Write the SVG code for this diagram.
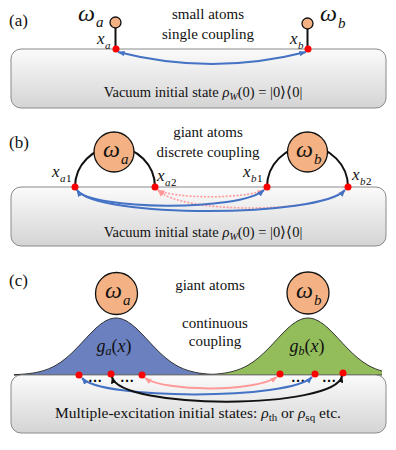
<svg xmlns="http://www.w3.org/2000/svg" width="396" height="450" viewBox="0 0 396 450" font-family="Liberation Serif, serif">
<defs>
<style>
text{font-family:"Liberation Serif",serif}
.wg{fill:url(#wgGrad);stroke:#8a8a8a;stroke-width:1}
.lbl{font-size:17px;fill:#111}
.t{font-size:15px;fill:#111}
.m{font-style:italic;fill:#111}
.atom{fill:#f4b183;stroke:#111;stroke-width:1.3}
.leg{fill:none;stroke:#111;stroke-width:2}
.dot{fill:#ff0000}
.blue{fill:none;stroke:#4472c4;stroke-width:2;marker-start:url(#arB);marker-end:url(#arB)}
.pinkd{fill:none;stroke:#ff9999;stroke-width:1.6;stroke-dasharray:2 1.6;marker-start:url(#arP);marker-end:url(#arP)}
.pink{fill:none;stroke:#ff9999;stroke-width:2;marker-start:url(#arP);marker-end:url(#arP)}
.blk{fill:none;stroke:#111;stroke-width:2;marker-start:url(#arK);marker-end:url(#arK)}
.gauss{stroke:#222;stroke-width:0.9}
</style>
<linearGradient id="wgGrad" x1="0" y1="0" x2="0" y2="1">
<stop offset="0" stop-color="#fbfbfb"/>
<stop offset="1" stop-color="#d4d4d4"/>
</linearGradient>
<marker id="arB" viewBox="0 0 8 6" refX="7.5" refY="3" markerWidth="7" markerHeight="5.5" markerUnits="userSpaceOnUse" orient="auto-start-reverse"><path d="M0,0 L8,3 L0,6 z" fill="#4472c4"/></marker>
<marker id="arP" viewBox="0 0 8 6" refX="7.5" refY="3" markerWidth="7" markerHeight="5.5" markerUnits="userSpaceOnUse" orient="auto-start-reverse"><path d="M0,0 L8,3 L0,6 z" fill="#ff9999"/></marker>
<marker id="arK" viewBox="0 0 8 6" refX="7.5" refY="3" markerWidth="7" markerHeight="5.5" markerUnits="userSpaceOnUse" orient="auto-start-reverse"><path d="M0,0 L8,3 L0,6 z" fill="#111"/></marker>
<path id="gshape" d="M-110,0 C-103.33,0 -96.67,-0.46 -90,-1.1 C-80,-2.06 -70,-4.06 -60,-9.8 C-53.33,-13.63 -46.67,-19.3 -40,-26.1 C-33.33,-32.9 -26.67,-40.79 -20,-46.9 C-13.33,-53.01 -6.67,-57 0,-57 C6.67,-57 13.33,-53.01 20,-46.9 C26.67,-40.79 33.33,-32.9 40,-26.1 C46.67,-19.3 53.33,-13.63 60,-9.8 C70,-4.06 80,-2.06 90,-1.1 C96.67,-0.46 103.33,0 110,0 Z"/>
<clipPath id="gclip" clipPathUnits="userSpaceOnUse"><rect x="14" y="300" width="368" height="76"/></clipPath>
</defs>

<!-- Panel (a) -->
<g id="panel-a">
<text class="lbl" x="9" y="26">(a)</text>
<g id="waveguide-a"><rect class="wg" x="11" y="49" width="375" height="59" rx="10"/></g>
<text class="t" x="208" y="19" text-anchor="middle">small atoms</text>
<text class="t" x="208" y="39" text-anchor="middle">single coupling</text>
<text class="t" x="203" y="97" text-anchor="middle" style="font-size:14.5px">Vacuum initial state <tspan font-style="italic">ρ</tspan><tspan font-style="italic" style="font-size:10px" dy="3">W</tspan><tspan dy="-3">(0) = |0⟩⟨0|</tspan></text>
</g>
<g id="atom-a-small">
<line class="leg" x1="115.5" y1="28" x2="115.5" y2="49"/>
<circle class="atom" cx="115.5" cy="22.5" r="5.5"/>
<text class="m" x="78" y="21" font-size="24">ω</text>
<text class="m" x="96" y="27" font-size="15">a</text>
<text class="m" x="97" y="44" font-size="17">x</text>
<text class="m" x="105" y="49" font-size="11">a</text>
<circle class="dot" cx="116" cy="49" r="3.5"/>
</g>
<g id="atom-b-small">
<line class="leg" x1="307.5" y1="29" x2="307.5" y2="49"/>
<circle class="atom" cx="307.5" cy="23.5" r="5.5"/>
<text class="m" x="320" y="21" font-size="24">ω</text>
<text class="m" x="338" y="28" font-size="15">b</text>
<text class="m" x="290" y="44" font-size="17">x</text>
<text class="m" x="298" y="49" font-size="11">b</text>
<circle class="dot" cx="308" cy="49" r="3.5"/>
</g>

<!-- Panel (b) -->
<g id="panel-b">
<text class="lbl" x="9" y="148">(b)</text>
<g id="waveguide-b"><rect class="wg" x="11" y="187" width="375" height="59" rx="10"/></g>
<text class="t" x="208" y="137" text-anchor="middle">giant atoms</text>
<text class="t" x="208" y="157" text-anchor="middle">discrete coupling</text>
<text class="t" x="203" y="237" text-anchor="middle" style="font-size:14.5px">Vacuum initial state <tspan font-style="italic">ρ</tspan><tspan font-style="italic" style="font-size:10px" dy="3">W</tspan><tspan dy="-3">(0) = |0⟩⟨0|</tspan></text>
</g>
<g id="atom-a-discrete">
<path class="leg" d="M75,187 A40,40 0 0 1 155,187"/>
<circle class="atom" cx="114" cy="152" r="20"/>
<text class="m" x="103" y="157" font-size="24">ω</text>
<text class="m" x="121" y="164" font-size="15">a</text>
<text class="m" x="52" y="177" font-size="17">x</text>
<text class="m" x="60" y="182" font-size="11">a</text>
<text x="66" y="182" font-size="11">1</text>
<text class="m" x="157" y="181" font-size="17">x</text>
<text class="m" x="165" y="186" font-size="11">a</text>
<text x="171" y="186" font-size="11">2</text>
<circle class="dot" cx="75" cy="187" r="3.5"/>
<circle class="dot" cx="155" cy="187" r="3.5"/>
</g>
<g id="atom-b-discrete">
<path class="leg" d="M267,187 A40.5,40.5 0 0 1 348,187"/>
<circle class="atom" cx="307.5" cy="152" r="20"/>
<text class="m" x="296" y="157" font-size="24">ω</text>
<text class="m" x="314" y="164" font-size="15">b</text>
<text class="m" x="243" y="177" font-size="17">x</text>
<text class="m" x="251" y="182" font-size="11">b</text>
<text x="257" y="182" font-size="11">1</text>
<text class="m" x="352" y="180" font-size="17">x</text>
<text class="m" x="360" y="185" font-size="11">b</text>
<text x="366" y="185" font-size="11">2</text>
<circle class="dot" cx="267" cy="187" r="3.5"/>
<circle class="dot" cx="348" cy="187" r="3.5"/>
</g>

<!-- Panel (c) -->
<g id="panel-c">
<text class="lbl" x="9" y="286">(c)</text>
<g id="gauss-a" clip-path="url(#gclip)"><use href="#gshape" transform="translate(116,375)" fill="#6b80bf" class="gauss"/></g>
<g id="gauss-b" clip-path="url(#gclip)"><use href="#gshape" transform="translate(308,375)" fill="#93bd5b" class="gauss"/></g>
<g id="waveguide-c"><rect class="wg" x="11" y="375" width="375" height="58" rx="10"/></g>
<text class="t" x="210" y="290" text-anchor="middle">giant atoms</text>
<text class="t" x="215" y="328" text-anchor="middle">continuous</text>
<text class="t" x="215" y="346" text-anchor="middle">coupling</text>
<text class="t" x="198" y="418" text-anchor="middle" style="font-size:15.5px">Multiple-excitation initial states: <tspan font-style="italic">ρ</tspan><tspan style="font-size:11px" dy="3">th</tspan><tspan dy="-3"> or </tspan><tspan font-style="italic">ρ</tspan><tspan style="font-size:11px" dy="3">sq</tspan><tspan dy="-3"> etc.</tspan></text>
</g>
<g id="atom-a-cont">
<circle class="atom" cx="116.5" cy="293.5" r="21"/>
<text class="m" x="105" y="298" font-size="24">ω</text>
<text class="m" x="123" y="305" font-size="15">a</text>
<text class="m" x="114" y="352" font-size="18" text-anchor="middle">g<tspan font-size="12" dy="3">a</tspan><tspan dy="-3" font-style="normal">(</tspan>x<tspan font-style="normal">)</tspan></text>
<circle class="dot" cx="79" cy="375" r="3.5"/>
<circle class="dot" cx="111" cy="374" r="3.5"/>
<circle class="dot" cx="142" cy="375" r="3.5"/>
<text x="95" y="382" text-anchor="middle" font-weight="bold" font-size="14">…</text>
<text x="127" y="382" text-anchor="middle" font-weight="bold" font-size="14">…</text>
</g>
<g id="atom-b-cont">
<circle class="atom" cx="308" cy="293" r="21"/>
<text class="m" x="296" y="298" font-size="24">ω</text>
<text class="m" x="314" y="305" font-size="15">b</text>
<text class="m" x="307" y="352" font-size="18" text-anchor="middle">g<tspan font-size="12" dy="3">b</tspan><tspan dy="-3" font-style="normal">(</tspan>x<tspan font-style="normal">)</tspan></text>
<circle class="dot" cx="280" cy="374" r="3.5"/>
<circle class="dot" cx="315" cy="374" r="3.5"/>
<circle class="dot" cx="343" cy="373" r="3.5"/>
<text x="298" y="382" text-anchor="middle" font-weight="bold" font-size="14">…</text>
<text x="329" y="382" text-anchor="middle" font-weight="bold" font-size="14">…</text>
</g>

<!-- Connectors -->
<g id="connectors">
<path class="blue" d="M118,52 Q212,76 306,52"/>
<path class="pinkd" d="M158,190 C175,199 245,199 264,190"/>
<path class="pinkd" d="M158,190 C180,214 320,214 345,190"/>
<path class="blue" d="M77,190 C90,210 240,212 264,190"/>
<path class="blue" d="M77,190 C95,218 320,218 345,190"/>
<path class="pink" d="M145,378 C165,392 255,392 277,377"/>
<path class="blue" d="M82,378 C100,400 290,400 312,377"/>
<path class="blk" d="M112,377 C120,410 335,410 342,376"/>
</g>
</svg>
